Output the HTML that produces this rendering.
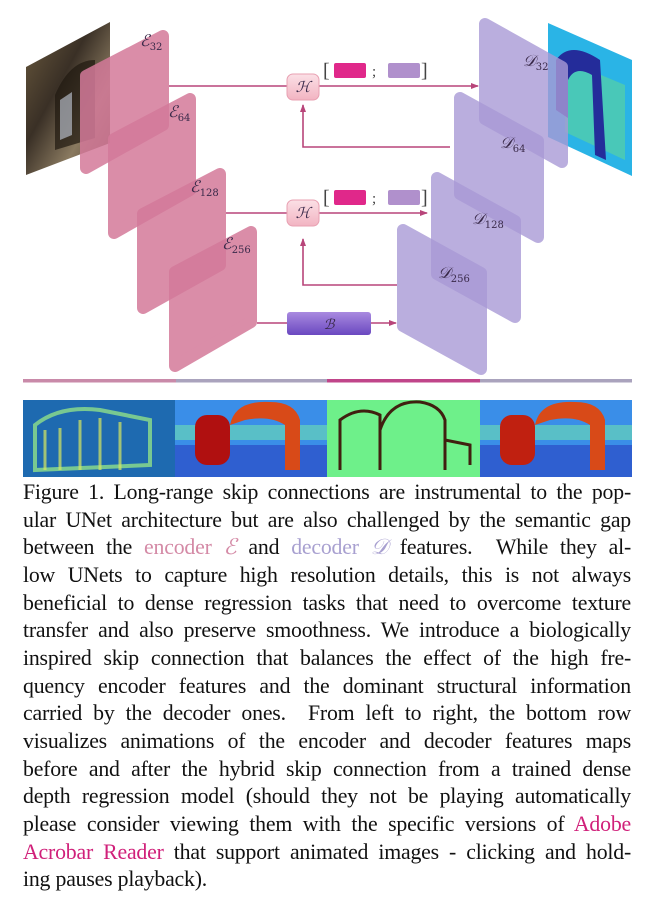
<!DOCTYPE html>
<html><head><meta charset="utf-8">
<style>
html,body{margin:0;padding:0;background:#fff;}
body{width:653px;height:910px;position:relative;overflow:hidden;}
svg{position:absolute;left:0;top:0;}
.cap{position:absolute;left:23px;top:479px;width:608px;font-family:"Liberation Serif",serif;font-size:21.8px;line-height:27.65px;color:#111;letter-spacing:-0.2px;}
.cap div{text-align:justify;text-align-last:justify;white-space:nowrap;}
.cap div.last{text-align-last:left;}
.lbl{font-family:"DejaVu Serif","Liberation Serif",serif;font-style:italic;fill:#3a2a4a;}
</style></head><body>
<svg width="653" height="480" viewBox="0 0 653 480">
<defs>
<linearGradient id="photo" x1="0" y1="0" x2="1" y2="1">
<stop offset="0" stop-color="#6b5a3e"/><stop offset="0.4" stop-color="#3a3026"/><stop offset="0.7" stop-color="#8a7a60"/><stop offset="1" stop-color="#4a3a28"/></linearGradient>
<linearGradient id="bbox" x1="0" y1="0" x2="0" y2="1"><stop offset="0" stop-color="#a98ae0"/><stop offset="1" stop-color="#6a48c0"/></linearGradient>
<linearGradient id="hbox" x1="0" y1="0" x2="0" y2="1"><stop offset="0" stop-color="#fbe0e6"/><stop offset="1" stop-color="#f2b4c2"/></linearGradient>
<marker id="ar" markerWidth="8" markerHeight="8" refX="7" refY="4" orient="auto" markerUnits="userSpaceOnUse"><path d="M0,1 L8,4 L0,7 Z" fill="#b8457a"/></marker>
</defs>
<polygon points="26,67 110,22 110,143 26,175" fill="url(#photo)"/>
<path d="M55,150 L55,95 Q70,60 95,60 L95,138 Z" fill="#20180f" opacity="0.7"/>
<path d="M60,140 L60,100 L72,92 L72,135 Z" fill="#c8d0e0" opacity="0.6"/>
<polygon points="548,23 632,60 632,176 548,137" fill="#2ab4e6"/>
<polygon points="565,60 625,85 625,160 565,132" fill="#5fd69a" opacity="0.6"/>
<path d="M556,110 L556,60 Q570,40 600,60 L606,160 L595,155 L592,75 Q575,65 568,80 L568,118 Z" fill="#242c9a"/>
<g stroke-linejoin="round" stroke-width="12">
<polygon opacity="0.85" fill="#d47a9a" stroke="#d47a9a" points="86,76 163,36 163,125 86,168"/>
<polygon opacity="0.85" fill="#d47a9a" stroke="#d47a9a" points="114,139 190,99 190,190 114,233"/>
<polygon opacity="0.85" fill="#d47a9a" stroke="#d47a9a" points="143,214 220,174 220,265 143,308"/>
<polygon opacity="0.85" fill="#d47a9a" stroke="#d47a9a" points="175,272 251,232 251,322 175,366"/>
<polygon opacity="0.8" fill="#a99ad6" stroke="#a99ad6" points="485,24 562,67 562,162 485,119"/>
<polygon opacity="0.8" fill="#a99ad6" stroke="#a99ad6" points="460,98 538,141 538,237 460,194"/>
<polygon opacity="0.8" fill="#a99ad6" stroke="#a99ad6" points="437,178 515,221 515,317 437,274"/>
<polygon opacity="0.8" fill="#a99ad6" stroke="#a99ad6" points="403,230 481,273 481,369 403,326"/>
</g>
<text class="lbl" x="140" y="46" font-size="16">ℰ<tspan font-size="10" dy="4" font-style="normal">32</tspan></text>
<text class="lbl" x="168" y="117" font-size="16">ℰ<tspan font-size="10" dy="4" font-style="normal">64</tspan></text>
<text class="lbl" x="190" y="192" font-size="16">ℰ<tspan font-size="10" dy="4" font-style="normal">128</tspan></text>
<text class="lbl" x="222" y="249" font-size="16">ℰ<tspan font-size="10" dy="4" font-style="normal">256</tspan></text>
<text class="lbl" x="523" y="66" font-size="16">𝒟<tspan font-size="10" dy="4" font-style="normal">32</tspan></text>
<text class="lbl" x="500" y="148" font-size="16">𝒟<tspan font-size="10" dy="4" font-style="normal">64</tspan></text>
<text class="lbl" x="472" y="224" font-size="16">𝒟<tspan font-size="10" dy="4" font-style="normal">128</tspan></text>
<text class="lbl" x="438" y="278" font-size="16">𝒟<tspan font-size="10" dy="4" font-style="normal">256</tspan></text>
<g stroke="#b8457a" stroke-width="1.6" fill="none">
<line x1="169" y1="86" x2="287" y2="86"/>
<line x1="319" y1="86" x2="478" y2="86" marker-end="url(#ar)"/>
<polyline points="450,147 303,147 303,105" marker-end="url(#ar)"/>
<line x1="226" y1="213" x2="287" y2="213"/>
<line x1="319" y1="213" x2="427" y2="213" marker-end="url(#ar)"/>
<polyline points="397,285 303,285 303,239" marker-end="url(#ar)"/>
<line x1="257" y1="323" x2="287" y2="323"/>
<line x1="371" y1="323" x2="396" y2="323" marker-end="url(#ar)"/>
</g>
<rect x="287" y="74" width="32" height="26" rx="6" fill="url(#hbox)" stroke="#e8a0b2"/>
<text class="lbl" x="303" y="92" font-size="15" text-anchor="middle">ℋ</text>
<rect x="287" y="200" width="32" height="26" rx="6" fill="url(#hbox)" stroke="#e8a0b2"/>
<text class="lbl" x="303" y="218" font-size="15" text-anchor="middle">ℋ</text>
<rect x="287" y="312" width="84" height="23" rx="3" fill="url(#bbox)"/>
<text class="lbl" x="329" y="329" font-size="14" text-anchor="middle">ℬ</text>
<g font-family="Liberation Serif,serif" font-size="20" fill="#444">
<text x="323" y="77">[</text><text x="372" y="76" font-size="15">;</text><text x="421" y="77">]</text>
<text x="323" y="204">[</text><text x="372" y="203" font-size="15">;</text><text x="421" y="204">]</text>
</g>
<rect x="334" y="63" width="32" height="15" rx="2" fill="#e0288a"/>
<rect x="388" y="63" width="32" height="15" rx="2" fill="#b090cc"/>
<rect x="334" y="190" width="32" height="15" rx="2" fill="#e0288a"/>
<rect x="388" y="190" width="32" height="15" rx="2" fill="#b090cc"/>
<rect x="23" y="379" width="153" height="3.5" fill="#c98aa9"/>
<rect x="176" y="379" width="151" height="3.5" fill="#aaa3bd"/>
<rect x="327" y="379" width="153" height="3.5" fill="#c0458a"/>
<rect x="480" y="379" width="152" height="3.5" fill="#aaa3bd"/>
<rect x="23" y="400" width="152" height="77" fill="#1e6ab0"/>
<path d="M35,470 L35,425 Q60,405 100,410 L150,420 L150,465 Z" fill="none" stroke="#8fe08a" stroke-width="4" opacity="0.8"/>
<path d="M45,470 L45,430 M60,470 L60,428 M80,470 L80,420 M100,470 L100,418 M120,470 L120,422" stroke="#d8e860" stroke-width="3" opacity="0.7"/>
<rect x="175" y="400" width="152" height="77" fill="#3a8ee8"/>
<rect x="175" y="445" width="152" height="32" fill="#2f5fd0"/>
<rect x="175" y="425" width="152" height="15" fill="#6ee0b0" opacity="0.6"/>
<rect x="195" y="415" width="35" height="50" rx="12" fill="#b01010"/>
<path d="M230,425 Q235,400 270,402 Q295,402 300,420 L300,470 L285,470 L285,425 Q270,415 245,420 Z" fill="#d84a18"/>
<rect x="327" y="400" width="153" height="77" fill="#6ef08a"/>
<path d="M340,470 L340,420 Q360,405 380,415 L380,470 M380,430 Q390,400 420,402 Q440,405 445,420 L445,470 M445,440 L470,445 L470,465" fill="none" stroke="#402010" stroke-width="3"/>
<rect x="480" y="400" width="152" height="77" fill="#3a8ee8"/>
<rect x="480" y="445" width="152" height="32" fill="#2f5fd0"/>
<rect x="480" y="425" width="152" height="15" fill="#6ee0b0" opacity="0.6"/>
<rect x="500" y="415" width="35" height="50" rx="12" fill="#c02010"/>
<path d="M535,425 Q540,400 575,402 Q600,402 605,420 L605,470 L590,470 L590,425 Q575,415 550,420 Z" fill="#d84a18"/>
</svg>
<div class="cap">
<div>Figure 1. Long-range skip connections are instrumental to the pop-</div>
<div>ular UNet architecture but are also challenged by the semantic gap</div>
<div>between the <span style="color:#d48aa6">encoder <i>ℰ</i></span> and <span style="color:#a8a0d0">decoder <i>𝒟</i></span> features.&nbsp; While they al-</div>
<div>low UNets to capture high resolution details, this is not always</div>
<div>beneficial to dense regression tasks that need to overcome texture</div>
<div>transfer and also preserve smoothness. We introduce a biologically</div>
<div>inspired skip connection that balances the effect of the high fre-</div>
<div>quency encoder features and the dominant structural information</div>
<div>carried by the decoder ones.&nbsp; From left to right, the bottom row</div>
<div>visualizes animations of the encoder and decoder features maps</div>
<div>before and after the hybrid skip connection from a trained dense</div>
<div>depth regression model (should they not be playing automatically</div>
<div>please consider viewing them with the specific versions of <span style="color:#d0207a">Adobe</span></div>
<div><span style="color:#d0207a">Acrobar Reader</span> that support animated images - clicking and hold-</div>
<div class="last">ing pauses playback).</div>
</div>
</body></html>
